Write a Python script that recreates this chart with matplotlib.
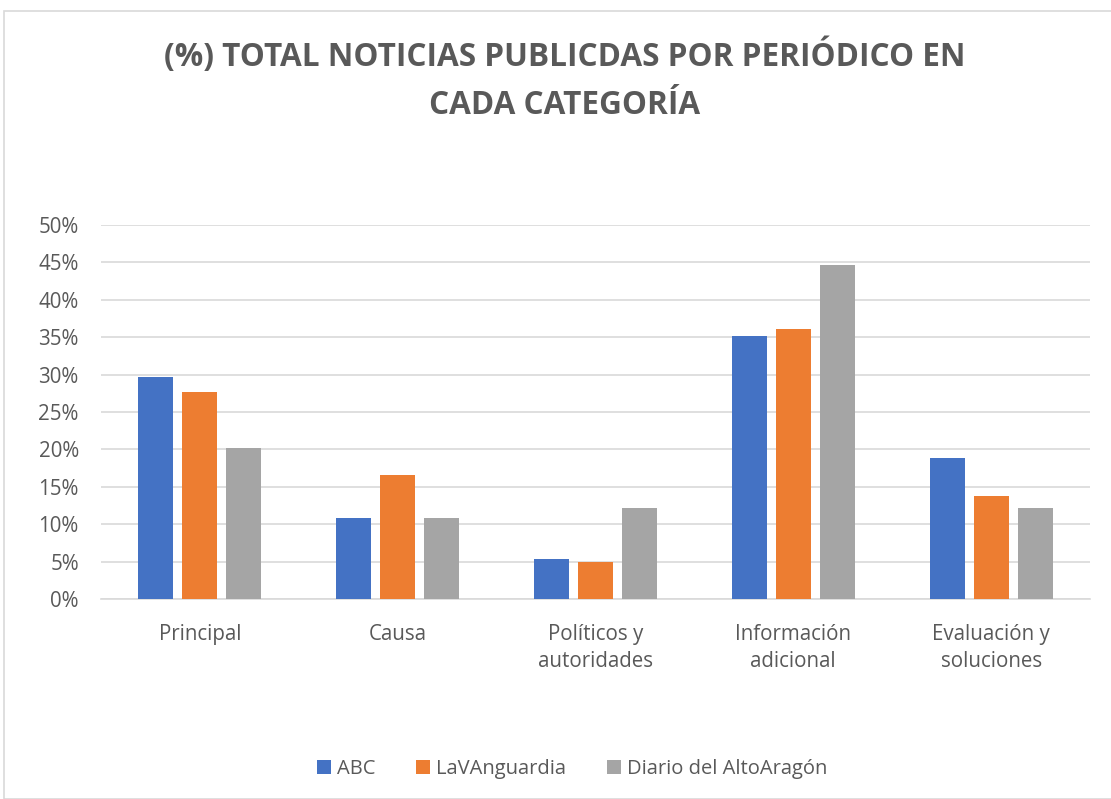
import numpy as np
import matplotlib
matplotlib.use("Agg")
import matplotlib.pyplot as plt
from matplotlib.patches import Rectangle
from matplotlib.ticker import PercentFormatter

# data
categories = ["Principal", "Causa", "Políticos y\nautoridades",
              "Información\nadicional", "Evaluación y\nsoluciones"]
abc = [29.7, 10.8, 5.4, 35.1, 18.9]
lavanguardia = [27.7, 16.6, 5.0, 36.1, 13.8]
diario = [20.2, 10.8, 12.1, 44.6, 12.1]
series_names = ["ABC", "LaVAnguardia", "Diario del AltoAragón"]
colors = ["#4472C4", "#ED7D31", "#A5A5A5"]

plt.rcParams["font.family"] = ["Open Sans", "DejaVu Sans"]
text_col = "#595959"

fig = plt.figure(figsize=(11.11, 7.99), dpi=100)
# chart border
fig.patches.append(Rectangle((4 / 1111, 0), 1.0, 1 - 11 / 799, transform=fig.transFigure,
                             fill=False, edgecolor="#D9D9D9", linewidth=1.2))

ax = fig.add_axes([101 / 1111, 1 - 599 / 799, (1090 - 101) / 1111, (599 - 225) / 799])

x = np.arange(len(categories))
w = 0.177
off = 0.222
for i, (vals, name) in enumerate(zip([abc, lavanguardia, diario], series_names)):
    ax.bar(x + (i - 1) * off, vals, width=w, color=colors[i], label=name, zorder=3)

ax.set_xlim(-0.5, len(categories) - 0.5)
ax.set_ylim(0, 50)
ax.set_yticks(np.arange(0, 51, 5))
ax.yaxis.set_major_formatter(PercentFormatter(decimals=0))
ax.grid(axis="y", color="#D9D9D9", linewidth=1.2, zorder=0)
for s in ["top", "right", "left"]:
    ax.spines[s].set_visible(False)
ax.spines["bottom"].set_color("#D9D9D9")
ax.spines["bottom"].set_linewidth(1.2)
ax.tick_params(axis="both", length=0, labelsize=14.8, colors=text_col)
ax.tick_params(axis="y", pad=16)
ax.tick_params(axis="x", pad=18)
ax.set_xticks(x)
ax.set_xticklabels(categories, linespacing=1.4)

fig.text(0.508, 1 - 80 / 799, "(%) TOTAL NOTICIAS PUBLICDAS POR PERIÓDICO EN\nCADA CATEGORÍA",
         ha="center", va="center", fontsize=22.7, fontweight="bold", color=text_col,
         linespacing=1.6)

fig.legend(loc="center", bbox_to_anchor=(0.515, 1 - 769 / 799), ncol=3, frameon=False,
           fontsize=14.5, labelcolor=text_col, handlelength=0.7, handleheight=0.7,
           handletextpad=0.3, columnspacing=2.0)

fig.savefig("out.png", dpi=100)
